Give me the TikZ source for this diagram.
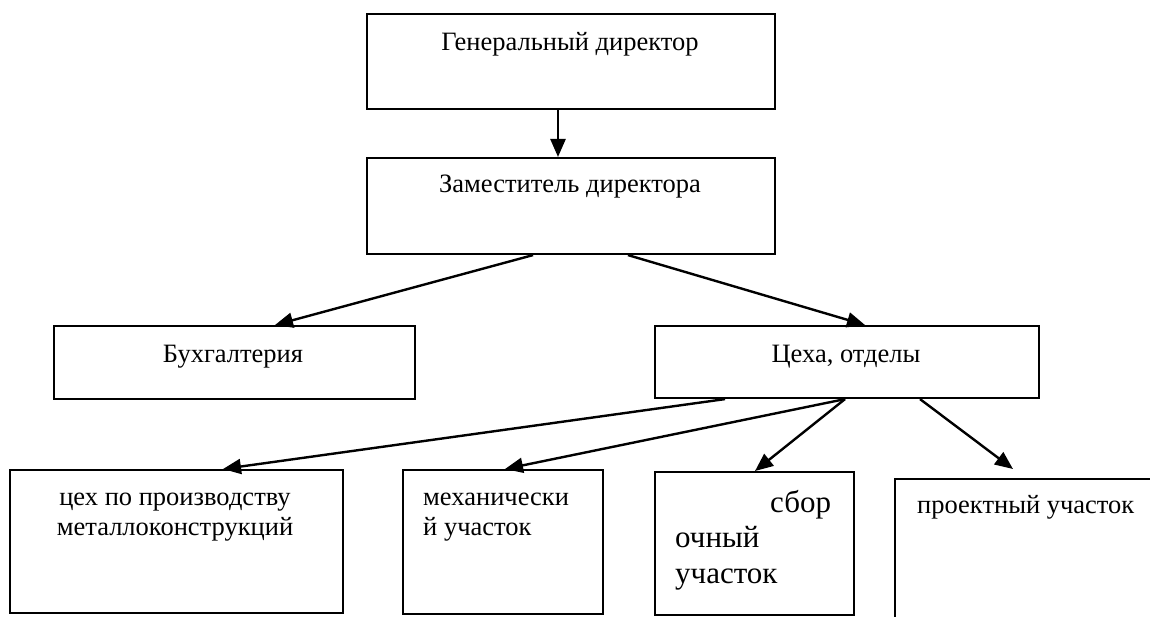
\documentclass[tikz,border=0pt]{standalone}
\usepackage{fontspec}
\setmainfont{Liberation Serif}
\usetikzlibrary{arrows.meta}
\begin{document}
\begin{tikzpicture}[x=1pt,y=-1pt,
  boxnode/.style={draw, line width=2.1pt, inner sep=0pt, anchor=north west},
  txt/.style={font=\fontsize{26.5}{30}\selectfont, anchor=base, inner sep=0pt},
  txtbig/.style={font=\fontsize{31}{35}\selectfont, anchor=base west, inner sep=0pt},
  conn/.style={line width=2.4pt, -{Triangle[length=18pt,width=15pt]}}
]
\useasboundingbox (0,0) rectangle (1150,617);
\clip (0,0) rectangle (1150,617);
% boxes
\node[boxnode, minimum width=408pt, minimum height=95pt] (gen) at (366,13) {};
\node[boxnode, minimum width=408pt, minimum height=96pt] (zam) at (366,157) {};
\node[boxnode, minimum width=361pt, minimum height=73pt] (buh) at (53,325) {};
\node[boxnode, minimum width=384pt, minimum height=72pt] (tseh) at (654,325) {};
\node[boxnode, minimum width=333pt, minimum height=143pt] (c1) at (9,469) {};
\node[boxnode, minimum width=200pt, minimum height=144pt] (c2) at (402,469) {};
\node[boxnode, minimum width=199pt, minimum height=143pt] (c3) at (654,471) {};
\node[boxnode, minimum width=300pt, minimum height=200pt] (c4) at (894,478) {};
% texts
\node[txt] (tgen) at (570,51) {Генеральный директор};
\node[txt] (tzam) at (570,193) {Заместитель директора};
\node[txt] (tbuh) at (233,362) {Бухгалтерия};
\node[txt] (ttseh) at (846,362) {Цеха, отделы};
\node[txt] (tc1a) at (175,505) {цех по производству};
\node[txt] (tc1b) at (175,535) {металлоконструкций};
\node[txt, anchor=base west] (tc2a) at (423,505) {механически};
\node[txt, anchor=base west] (tc2b) at (423,535) {й участок};
\node[txtbig] (tc3a) at (770,512) {сбор};
\node[txtbig] (tc3b) at (675,547) {очный};
\node[txtbig] (tc3c) at (675,583) {участок};
\node[txt, anchor=base west] (tc4) at (917,513) {проектный участок};
% connectors
\draw[conn] ([xshift=192pt]gen.south west) -- ([xshift=192pt]zam.north west);
\draw[conn] ([xshift=167pt]zam.south west) -- ([xshift=222pt]buh.north west);
\draw[conn] ([xshift=262pt]zam.south west) -- ([xshift=211pt]tseh.north west);
\draw[conn] ([xshift=71pt]tseh.south west) -- ([xshift=214pt]c1.north west);
\draw[conn] ([xshift=191pt]tseh.south west) -- ([xshift=103pt]c2.north west);
\draw[conn] ([xshift=191pt]tseh.south west) -- ([xshift=101pt]c3.north west);
\draw[conn] ([xshift=266pt]tseh.south west) -- ([xshift=119pt,yshift=9pt]c4.north west);
\end{tikzpicture}
\end{document}
